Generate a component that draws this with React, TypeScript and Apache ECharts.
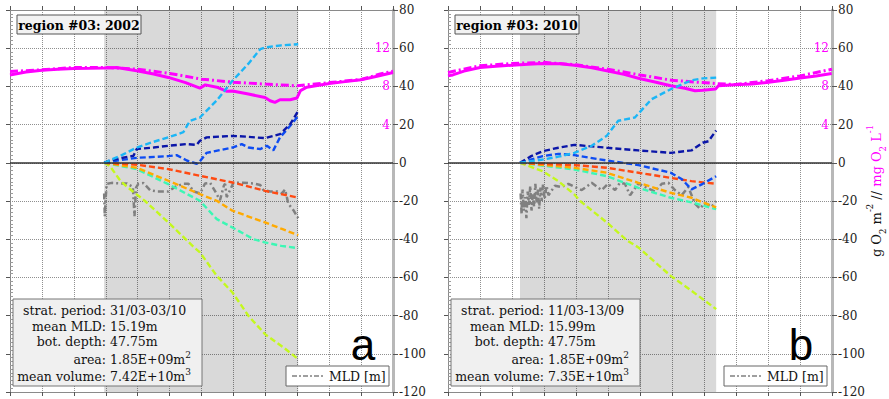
import React, { useEffect, useRef } from 'react';
import * as echarts from 'echarts';

// x: month of the year (0 = 1 Jan, 12 = 31 Dec); y: g O2 m^-2 (right labels) / mg O2 L^-1 (magenta, ×5)
const yMin = -120;
const yMax = 80;
const yStep = 20;
const o2TickValues = [20, 40, 60];
const o2TickLabels = ['4', '8', '12'];

const titles = ['region #03: 2002', 'region #03: 2010'];
const panelLetters = ['a', 'b'];
const stratPeriods = [
  [2.95, 9.03],
  [2.25, 8.38],
];
const infoLabels = ['strat. period:', 'mean MLD:', 'bot. depth:', 'area:', 'mean volume:'];
const infoValues2002 = ['31/03-03/10', '15.19m', '47.75m', '1.85E+09m{sup|2}', '7.42E+10m{sup|3}'];
const infoValues2010 = ['11/03-13/09', '15.99m', '47.75m', '1.85E+09m{sup|2}', '7.35E+10m{sup|3}'];
const legendLabel = 'MLD [m]';

// ---------- 2002 ----------
const o2Solid2002 = [
  [0, 46], [0.5, 47.5], [1, 48.5], [1.5, 49], [2, 49.4], [2.5, 49.5], [2.95, 49.6], [3.34, 49.9],
  [3.97, 48.2], [4.5, 46.5], [4.96, 44.7], [5.5, 42], [5.95, 39.1], [6.12, 40.8], [6.48, 39.6],
  [6.8, 37.4], [6.97, 37.6], [7.47, 36], [7.99, 34.2], [8.15, 32.5], [8.3, 31.6], [8.46, 33],
  [8.78, 33], [8.99, 33.9], [9.1, 37.8], [9.3, 39.6], [10, 41.5], [10.5, 42.5], [11, 43.5],
  [11.5, 45.3], [12, 47.3],
];
const o2Dash2002 = [
  [0, 47.8], [1, 48.7], [2, 49.9], [3, 49.9], [4, 49], [5, 46.8], [6, 43.8], [7, 42.2], [8, 41.2],
  [9, 40.3], [10, 42], [11, 43.6], [11.6, 46.5], [12, 48],
];
const lightBlue2002 = [
  [2.95, 0], [3.5, 4], [3.97, 8], [4.5, 11], [4.96, 13.3], [5.43, 16], [5.64, 22], [5.95, 23.7],
  [6.48, 32.7], [6.97, 42.9], [7.47, 51.9], [7.84, 59.5], [7.99, 60.4], [8.5, 61.5], [9.03, 62.1],
];
const darkBlue2002 = [
  [2.95, 0], [3.13, 1.2], [3.5, 2.5], [3.87, 3.7], [3.97, 7.2], [4.5, 8], [4.96, 8.9], [5.54, 9.8],
  [5.85, 9.4], [5.95, 11.5], [6.16, 13.3], [6.97, 14.1], [7.47, 13.6], [7.99, 12.9], [8.46, 15],
  [8.78, 20.2], [9.03, 27.2],
];
const medBlue2002 = [
  [2.95, 0], [3.5, 1.5], [3.97, 2.6], [4.96, 3.5], [5.22, 4], [5.54, 1.2], [5.85, -0.5],
  [5.95, 0.8], [6.16, 5.2], [6.97, 8], [7.26, 9.8], [7.47, 8], [7.84, 7.2], [8.05, 8.9],
  [8.25, 6.5], [8.46, 13.3], [8.78, 19.4], [9.03, 24.6],
];
const redOrange2002 = [
  [2.95, 0], [3.97, -1], [4.96, -3.3], [5.95, -6.8], [6.97, -10.3], [7.99, -14.7], [9.03, -18.2],
];
const orange2002 = [
  [2.95, 0], [3.97, -2.6], [4.96, -9.4], [5.95, -16.4], [6.48, -19.9], [6.97, -25.1],
  [7.99, -31.2], [8.5, -34.5], [9.03, -37.9],
];
const aqua2002 = [
  [2.95, 0], [3.97, -3.3], [4.96, -11.2], [5.95, -19.9], [6.48, -29.5], [6.97, -33.9],
  [7.63, -40], [7.99, -41.7], [8.5, -43.5], [9.03, -44.7],
];
const yellowGreen2002 = [
  [2.95, 0], [3.13, -1.7], [3.45, -9.2], [3.66, -12.5], [4.23, -20], [4.96, -31.2], [5.75, -44],
  [5.95, -46.9], [6.48, -59.2], [6.97, -67.9], [7.47, -80.1], [7.99, -89.7], [8.57, -96.7],
  [9.03, -102.8],
];
const mld2002 = [
  [2.95, -16], [2.97, -28], [3.0, -18], [3.03, -11], [3.19, -10.5], [3.45, -10.8], [3.66, -10.8],
  [3.85, -12.6], [3.9, -28], [3.95, -13], [4.02, -11], [4.18, -10.6], [4.39, -14.3], [4.6, -15],
  [4.81, -15], [4.96, -15], [5.17, -12.6], [5.43, -11], [5.59, -11], [5.75, -15], [5.96, -16],
  [6.11, -10.8], [6.27, -10.5], [6.43, -15], [6.58, -19.6], [6.7, -12], [6.74, -11], [6.79, -18],
  [7.0, -10.5], [7.31, -10.5], [7.63, -10.8], [7.84, -11.6], [7.94, -14.3], [8.15, -15],
  [8.36, -15], [8.52, -16], [8.62, -14], [8.72, -21.4], [8.88, -24.8], [9.03, -29],
];

// ---------- 2010 ----------
const o2Solid2010 = [
  [0, 45.5], [0.15, 46], [0.5, 48], [1, 49.9], [1.5, 50.6], [2, 51.1], [2.5, 51.6], [2.96, 52],
  [3.5, 51.8], [3.95, 51.1], [4.5, 49.8], [4.96, 48.2], [5.5, 46.3], [5.95, 44.3], [6.5, 42.2],
  [6.96, 40.3], [7.4, 39], [7.72, 37.7], [7.96, 38], [8.36, 38.6], [8.45, 40.3], [8.95, 40.8],
  [9.5, 41.3], [9.96, 42], [10.5, 43.2], [10.95, 44.3], [11.5, 45.5], [11.99, 46.8],
];
const o2Dash2010 = [
  [0, 47.3], [1, 50.8], [2, 52], [3, 52.6], [4, 51.3], [5, 49], [6, 46], [7, 43.2], [7.96, 42],
  [8.36, 41.5], [9, 41], [10, 43], [11, 45.5], [12, 49],
];
const lightBlue2010 = [
  [2.25, 0], [2.96, 1.7], [3.45, 3.2], [3.95, 5.2], [4.49, 8.9], [4.96, 14.1], [5.32, 22],
  [5.84, 23.7], [6.36, 33.3], [6.96, 38.5], [7.61, 43.2], [7.96, 44.2], [8.38, 44.6],
];
const darkBlue2010 = [
  [2.25, 0], [2.6, 3.5], [2.96, 6.1], [3.45, 7.9], [3.95, 9.4], [4.96, 7.9], [5.95, 6.5],
  [6.96, 5.2], [7.61, 6.5], [7.96, 10.5], [8.14, 11.3], [8.38, 16.9],
];
const medBlue2010 = [
  [2.25, 0], [2.96, 3.5], [3.45, 4.7], [3.95, 4], [4.96, 1.2], [5.95, -1.2], [6.96, -5.2],
  [7.3, -8.5], [7.61, -13.9], [7.96, -11], [8.38, -7],
];
const redOrange2010 = [
  [2.25, 0], [3.95, -1.2], [4.96, -2.6], [5.95, -5.2], [6.96, -7.9], [7.61, -9.6], [8.38, -11],
];
const orange2010 = [
  [2.25, 0], [3.95, -2.6], [4.96, -5.2], [5.95, -10.5], [6.96, -15.7], [7.61, -18.3],
  [7.96, -20.7], [8.38, -23.4],
];
const aqua2010 = [
  [2.25, 0], [3.95, -3.5], [4.96, -7], [5.95, -13.1], [6.96, -18.3], [7.61, -20.7], [8.38, -24.3],
];
const yellowGreen2010 = [
  [2.25, 0], [2.96, -4.4], [3.45, -9.6], [3.95, -16.6], [4.13, -20], [4.96, -31.2], [5.58, -40.5],
  [5.95, -44.3], [6.96, -59.2], [7.61, -67], [8.38, -76.6],
];
const mld2010 = [
  [2.27, -16], [2.3, -27], [2.33, -14], [2.37, -25], [2.41, -18], [2.45, -29], [2.49, -15],
  [2.53, -22], [2.57, -12], [2.61, -25], [2.65, -16], [2.69, -23], [2.73, -11], [2.77, -21],
  [2.81, -14], [2.85, -24], [2.89, -13], [2.93, -20], [2.97, -11], [3.02, -19], [3.08, -12],
  [3.14, -17], [3.34, -12], [3.55, -12.7], [3.76, -11], [4.0, -13], [4.18, -14.3], [4.49, -10.5],
  [4.8, -14.3], [5.0, -11], [5.22, -14.3], [5.37, -10.5], [5.53, -11], [5.69, -17], [5.95, -10.8],
  [6.26, -13.5], [6.47, -15], [6.68, -11], [6.89, -10.5], [7.09, -14.3], [7.3, -17], [7.51, -12.7],
  [7.72, -21.4], [7.87, -24], [8.03, -21], [8.24, -23], [8.38, -20],
];

const panelData = [
  {
    o2Solid: o2Solid2002, o2Dash: o2Dash2002, lightBlue: lightBlue2002, darkBlue: darkBlue2002,
    medBlue: medBlue2002, redOrange: redOrange2002, orange: orange2002, aqua: aqua2002,
    yellowGreen: yellowGreen2002, mld: mld2002, info: infoValues2002,
  },
  {
    o2Solid: o2Solid2010, o2Dash: o2Dash2010, lightBlue: lightBlue2010, darkBlue: darkBlue2010,
    medBlue: medBlue2010, redOrange: redOrange2010, orange: orange2010, aqua: aqua2010,
    yellowGreen: yellowGreen2010, mld: mld2010, info: infoValues2010,
  },
];

const SERIF = 'DejaVu Serif';
const GRIDS = [
  { left: 10, top: 10, width: 383, height: 382 },
  { left: 448, top: 10, width: 384, height: 382 },
];

function buildOption() {
  const xAxis: any[] = [];
  const yAxis: any[] = [];
  const series: any[] = [];
  const graphic: any[] = [];

  GRIDS.forEach((g, i) => {
    const frame = { color: '#8a8a8a', width: 1 };
    const tick = { color: '#555', width: 1 };
    const baseX = {
      type: 'value', gridIndex: i, min: 0, max: 12, interval: 1,
      axisLabel: { show: false },
    };
    xAxis.push({
      ...baseX, position: 'bottom',
      axisLine: { show: true, onZero: false, lineStyle: frame },
      axisTick: { show: true, inside: false, length: 4, lineStyle: tick },
      splitLine: { show: true, lineStyle: { type: 'dotted', color: '#8f8f8f', width: 1 } },
    });
    xAxis.push({
      ...baseX, position: 'top',
      axisLine: { show: true, onZero: false, lineStyle: frame },
      axisTick: { show: true, inside: false, length: 4, lineStyle: tick },
      splitLine: { show: false },
    });
    const baseY = { type: 'value', gridIndex: i, min: yMin, max: yMax, interval: yStep };
    yAxis.push({
      ...baseY, position: 'left',
      axisLine: { show: true, onZero: false, lineStyle: frame },
      axisTick: { show: true, inside: false, length: 4, lineStyle: tick },
      axisLabel: { show: false },
      splitLine: { show: true, lineStyle: { type: 'dotted', color: '#8f8f8f', width: 1 } },
    });
    yAxis.push({
      ...baseY, position: 'left',
      axisLine: { show: false, onZero: false },
      axisTick: { show: false, inside: true },
      minorTick: { show: true, splitNumber: 10, length: 3, lineStyle: { color: '#9a9a9a', width: 1 } },
      axisLabel: { show: false },
      splitLine: { show: false },
    });
    yAxis.push({
      ...baseY, position: 'right',
      axisLine: { show: true, onZero: false, lineStyle: { color: '#b8b8b8', width: 3 } },
      axisTick: { show: true, inside: false, length: 5, lineStyle: tick },
      axisLabel: { show: true, margin: 6, fontFamily: SERIF, fontSize: 12, color: '#222' },
      splitLine: { show: false },
    });
    yAxis.push({
      ...baseY, position: 'right',
      axisLine: { show: false, onZero: false },
      axisTick: { show: false },
      axisLabel: {
        show: true, inside: true, margin: 3, fontFamily: SERIF, fontSize: 12, color: '#ff00ff',
        formatter: (v: number) => {
          const k = o2TickValues.indexOf(v);
          return k >= 0 ? o2TickLabels[k] : '';
        },
      },
      splitLine: { show: false },
    });

    const d = panelData[i];
    const xi = 2 * i;
    const yi = 4 * i + 2;
    const mk = (data: number[][], color: string, width: number, type: any, z = 3) => ({
      type: 'line', xAxisIndex: xi, yAxisIndex: yi, data, symbol: 'none', showSymbol: false,
      silent: true, z,
      lineStyle: { color, width, type },
    });
    const dash = [6, 3];

    const mldSeries: any = mk(d.mld, '#808080', 2.5, [6, 3, 2, 3], 2);
    mldSeries.markArea = {
      silent: true,
      itemStyle: { color: 'rgba(0,0,0,0.15)' },
      data: [[{ xAxis: stratPeriods[i][0] }, { xAxis: stratPeriods[i][1] }]],
    };
    mldSeries.markLine = {
      silent: true, symbol: 'none', label: { show: false },
      lineStyle: { color: '#333', width: 1.5, type: 'solid' },
      data: [{ yAxis: 0 }],
    };
    series.push(mldSeries);
    series.push(mk(d.o2Dash, '#ff00ff', 3, [8, 3, 2, 3]));
    series.push(mk(d.o2Solid, '#ff00ff', 3, 'solid'));
    series.push(mk(d.yellowGreen, '#c4f81e', 2.4, dash));
    series.push(mk(d.aqua, '#3cf7b4', 2.4, dash));
    series.push(mk(d.orange, '#ffaa00', 2.4, dash));
    series.push(mk(d.redOrange, '#ff4a12', 2.4, dash));
    series.push(mk(d.medBlue, '#0e4cf2', 2.4, dash));
    series.push(mk(d.darkBlue, '#0b16a8', 2.4, dash));
    series.push(mk(d.lightBlue, '#1cb6f6', 2.4, dash));

    const dx = g.left - 10;
    graphic.push({
      type: 'rect', z: 20, shape: { x: 17 + dx, y: 15, width: 124, height: 19 },
      style: { fill: '#f2f2f2', stroke: '#555', lineWidth: 1 },
    });
    graphic.push({
      type: 'text', z: 21, x: 79 + dx, y: 25,
      style: {
        text: titles[i], fontFamily: SERIF, fontWeight: 'bold', fontSize: 12.5, fill: '#000',
        align: 'center', verticalAlign: 'middle',
      },
    });
    graphic.push({
      type: 'rect', z: 20, shape: { x: 13 + dx, y: 299, width: 189, height: 87 },
      style: { fill: '#f0f0f0', stroke: '#777', lineWidth: 1 },
    });
    const rowY = [310, 326, 341, 359, 376];
    infoLabels.forEach((lab, r) => {
      graphic.push({
        type: 'text', z: 21, x: 106 + dx, y: rowY[r],
        style: {
          text: lab, fontFamily: SERIF, fontSize: 12.5, fill: '#111',
          align: 'right', verticalAlign: 'middle',
        },
      });
      graphic.push({
        type: 'text', z: 21, x: 110 + dx, y: rowY[r],
        style: {
          text: d.info[r], fontFamily: SERIF, fontSize: 12.5, lineHeight: 18, fill: '#111',
          align: 'left', verticalAlign: 'middle',
          rich: { sup: { fontFamily: SERIF, fontSize: 9, lineHeight: 10, verticalAlign: 'top', fill: '#111' } },
        },
      });
    });
    graphic.push({
      type: 'rect', z: 20, shape: { x: 286 + dx, y: 366, width: 103, height: 20 },
      style: { fill: '#fff', stroke: '#666', lineWidth: 1 },
    });
    graphic.push({
      type: 'line', z: 21, shape: { x1: 292 + dx, y1: 376, x2: 325 + dx, y2: 376 },
      style: { stroke: '#808080', lineWidth: 1.5, lineDash: [5, 2, 2, 2] },
    });
    graphic.push({
      type: 'text', z: 21, x: 329 + dx, y: 376,
      style: {
        text: legendLabel, fontFamily: SERIF, fontSize: 12.5, fill: '#111',
        align: 'left', verticalAlign: 'middle',
      },
    });
    graphic.push({
      type: 'text', z: 21, x: 363 + dx, y: 344,
      style: {
        text: panelLetters[i], fontFamily: 'Liberation Sans', fontSize: 44, lineHeight: 34, fill: '#000',
        align: 'center', verticalAlign: 'middle',
      },
    });
  });

  graphic.push({
    type: 'text', z: 21, x: 876, y: 191, rotation: Math.PI / 2,
    style: {
      text: '{k|g O}{ks|2}{k| m}{kp|-2}{k| // }{m|mg O}{ms|2}{m| L}{mp|-1}',
      fontFamily: SERIF, fontSize: 13, lineHeight: 22, fill: '#111',
      align: 'center', verticalAlign: 'middle',
      rich: {
        k: { fontFamily: SERIF, fontSize: 13, lineHeight: 22, fill: '#111' },
        ks: { fontFamily: SERIF, fontSize: 8.5, lineHeight: 10, verticalAlign: 'bottom', fill: '#111' },
        kp: { fontFamily: SERIF, fontSize: 8.5, lineHeight: 10, verticalAlign: 'top', fill: '#111' },
        m: { fontFamily: SERIF, fontSize: 13, lineHeight: 22, fill: '#ff00ff' },
        ms: { fontFamily: SERIF, fontSize: 8.5, lineHeight: 10, verticalAlign: 'bottom', fill: '#ff00ff' },
        mp: { fontFamily: SERIF, fontSize: 8.5, lineHeight: 10, verticalAlign: 'top', fill: '#ff00ff' },
      },
    },
  });

  return {
    animation: false,
    backgroundColor: '#ffffff',
    grid: GRIDS.map((g) => ({ ...g, containLabel: false })),
    xAxis,
    yAxis,
    series,
    graphic,
  };
}

export default function App() {
  const ref = useRef<HTMLDivElement>(null);
  useEffect(() => {
    if (!ref.current) return;
    const chart = echarts.init(ref.current, undefined, { renderer: 'svg' });
    chart.setOption(buildOption() as any);
    return () => chart.dispose();
  }, []);
  return (
    <div
      ref={ref}
      style={{ position: 'absolute', left: 0, top: 0, width: 889, height: 399, background: '#fff' }}
    />
  );
}
